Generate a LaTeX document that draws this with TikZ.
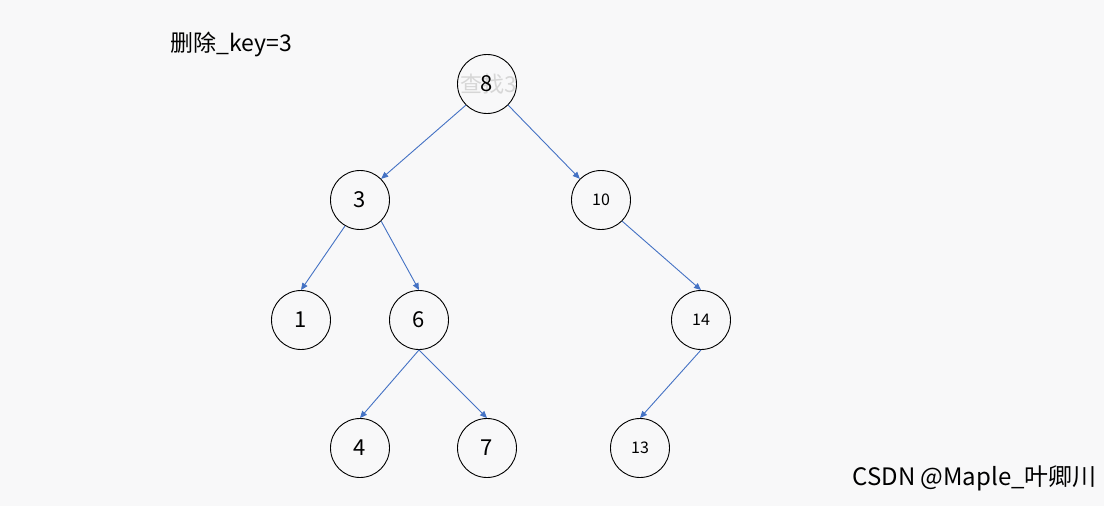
\documentclass[tikz,border=0pt]{standalone}
\usepackage{fontspec}
\setmainfont{Noto Sans CJK SC}
\usetikzlibrary{arrows.meta}
\definecolor{bg}{HTML}{F8F8F9}
\definecolor{edgeblue}{HTML}{4472C4}
\definecolor{ghost}{HTML}{D6D6D6}
\tikzset{
  tnode/.style={circle,draw=black,line width=0.9pt,minimum size=59pt,inner sep=0pt,font=\fontsize{22}{25}\selectfont},
  small/.style={font=\fontsize{16}{19}\selectfont},
  tedge/.style={draw=edgeblue,line width=0.9pt,-{Triangle[length=7pt,width=6pt]}},
}
\begin{document}
\begin{tikzpicture}[x=1pt,y=-1pt]
\fill[bg] (0,0) rectangle (1104,506);
\useasboundingbox (0,0) rectangle (1104,506);
\node[anchor=west,font=\fontsize{23}{26}\selectfont] (title) at (167,44) {删除\_key=3};
\node[text=ghost,font=\fontsize{22}{25}\selectfont] (ghost) at (489,84) {查找3};
\node[tnode] (n8) at (487,84) {8};
\node[tnode] (n3) at (360,200) {3};
\node[tnode,small] (n10) at (601,200) {10};
\node[tnode] (n1) at (301,320) {1};
\node[tnode] (n6) at (419,320) {6};
\node[tnode,small] (n14) at (701,320) {14};
\node[tnode] (n4) at (360,448) {4};
\node[tnode] (n7) at (487,448) {7};
\node[tnode,small] (n13) at (640,448) {13};
\draw[tedge] (n8.south west) -- (n3.north east);
\draw[tedge] (n8.south east) -- (n10.north west);
\draw[tedge] (n3.-120) -- (n1.north);
\draw[tedge] (n3.-45) -- (n6.north);
\draw[tedge] (n10.-45) -- (n14.north);
\draw[tedge] (n6.south) -- (n4.north);
\draw[tedge] (n6.south) -- (n7.north);
\draw[tedge] (n14.south) -- (n13.north);
\node[anchor=west,font=\fontsize{24}{27}\selectfont] (wm) at (849,478) {CSDN @Maple\_叶卿川};
\end{tikzpicture}
\end{document}
